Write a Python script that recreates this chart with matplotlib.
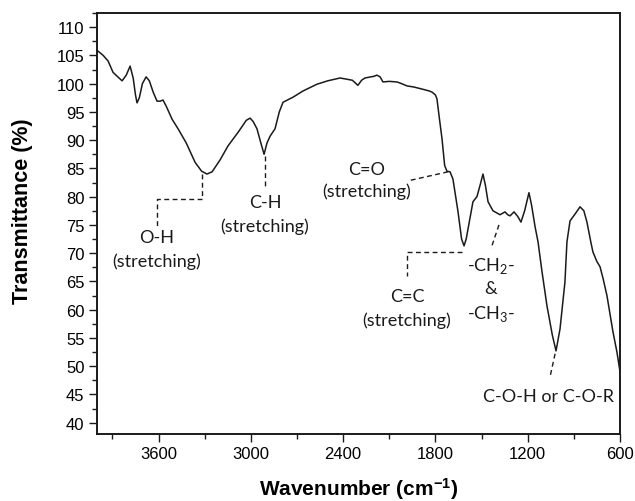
import matplotlib
matplotlib.use('Agg')
import matplotlib.pyplot as plt
from matplotlib.ticker import MultipleLocator

plt.rcParams['font.family'] = ['Liberation Sans', 'DejaVu Sans']
plt.rcParams['mathtext.fontset'] = 'custom'
plt.rcParams['mathtext.rm'] = 'Lato'
plt.rcParams['mathtext.bf'] = 'Liberation Sans:bold'

# Espectro FTIR (número de onda en cm-1, transmitancia en %)
wavenumber = [4000, 3960, 3928, 3896, 3865, 3837, 3810, 3785, 3765, 3750,
              3740, 3725, 3705, 3681, 3660, 3635, 3610, 3590, 3571, 3550,
              3512, 3473, 3420, 3363, 3320, 3285, 3252, 3200, 3148, 3080,
              3030, 3005, 2985, 2960, 2935, 2914, 2895, 2875, 2843, 2815,
              2791, 2726, 2661, 2570, 2500, 2420, 2340, 2304, 2280, 2258,
              2200, 2180, 2160, 2141, 2100, 2050, 2020, 1985, 1940, 1881,
              1840, 1822, 1800, 1790, 1775, 1757, 1740, 1725, 1705, 1686,
              1653, 1630, 1614, 1600, 1588, 1556, 1530, 1510, 1491, 1475,
              1458, 1426, 1380, 1348, 1330, 1315, 1289, 1265, 1244, 1220,
              1192, 1175, 1153, 1133, 1107, 1075, 1040, 1016, 990, 958,
              945, 925, 893, 860, 835, 815, 790, 776, 750, 730,
              710, 685, 646, 620, 600]
transmittance = [105.9, 105.0, 104.0, 102.0, 101.2, 100.5, 101.5, 103.1, 101.0, 98.0,
                 96.6, 97.5, 100.0, 101.2, 100.5, 98.5, 96.9, 96.9, 97.1, 96.0,
                 93.7, 92.0, 89.5, 86.1, 84.5, 84.0, 84.4, 86.5, 89.0, 91.5,
                 93.5, 93.9, 93.3, 92.0, 89.5, 87.5, 89.5, 90.7, 92.0, 95.0,
                 96.7, 97.6, 98.7, 99.9, 100.5, 101.0, 100.6, 99.7, 100.6, 101.0,
                 101.3, 101.5, 101.2, 100.3, 100.4, 100.3, 100.0, 99.6, 99.4, 99.0,
                 98.7, 98.5, 98.0, 97.3, 94.0, 90.2, 85.5, 84.5, 84.4, 83.1,
                 77.3, 72.5, 71.3, 72.5, 74.3, 79.1, 80.0, 82.0, 84.0, 82.0,
                 79.1, 77.5, 76.8, 77.3, 76.8, 76.6, 77.3, 76.5, 75.5, 77.5,
                 80.7, 78.5, 74.8, 72.0, 66.7, 60.7, 55.5, 52.7, 56.6, 64.9,
                 72.0, 75.7, 76.9, 78.2, 77.5, 75.5, 72.0, 70.2, 68.5, 67.6,
                 65.5, 62.5, 56.1, 52.5, 49.0]

# Anotaciones: líneas guía (x, y) y textos (x, y, texto)
guia_oh = ([3318, 3318, 3610, 3610], [84.0, 79.6, 79.6, 74.8])
guia_ch = ([2908, 2908], [87.2, 81.7])
guia_co = ([1718, 1978], [84.4, 82.8])
guia_cc = ([1627, 1985, 1985], [70.2, 70.2, 66.0])
guia_ch2 = ([1387, 1439], [75.0, 70.8])
guia_coh = ([1022, 1055], [52.2, 48.1])

textos = [
    (3610, 72.9, 'O-H'),
    (3610, 68.6, '(stretching)'),
    (2908, 79.0, 'C-H'),
    (2908, 74.9, '(stretching)'),
    (2250, 84.9, 'C=O'),
    (2250, 81.0, '(stretching)'),
    (1985, 62.4, 'C=C'),
    (1985, 58.2, '(stretching)'),
    (1439, 67.9, '-CH$_2$-'),
    (1439, 63.9, '&'),
    (1439, 59.4, '-CH$_3$-'),
    (1068, 44.7, 'C-O-H or C-O-R'),
]

fig = plt.figure(figsize=(6.35, 5.02), dpi=100)
ax = fig.add_axes([0.1528, 0.1335, 0.8236, 0.8386])

ax.plot(wavenumber, transmittance, color='#1a1a1a', linewidth=1.1)

for gx, gy in [guia_oh, guia_ch, guia_co, guia_cc, guia_ch2, guia_coh]:
    ax.plot(gx, gy, color='#1a1a1a', linewidth=1.0, linestyle=(0, (3.5, 2.5)))

for tx, ty, t in textos:
    ax.text(tx, ty, t, ha='center', va='center', fontsize=13,
            family=['Lato', 'DejaVu Sans'], color='#1a1a1a')

ax.set_xlim(4000, 600)
ax.set_ylim(38, 112.5)
ax.xaxis.set_major_locator(MultipleLocator(600))
ax.xaxis.set_minor_locator(MultipleLocator(300))
ax.set_xticks([3600, 3000, 2400, 1800, 1200, 600])
ax.yaxis.set_major_locator(MultipleLocator(5))
ax.yaxis.set_minor_locator(MultipleLocator(2.5))
ax.set_yticks(range(40, 111, 5))

ax.tick_params(which='both', direction='out', top=False, right=False,
               labelsize=12, width=1.0, color='#1a1a1a')
ax.tick_params(which='major', length=5.5)
ax.tick_params(which='minor', length=3.5)
for s in ax.spines.values():
    s.set_linewidth(1.4)
    s.set_color('#1a1a1a')

ax.set_xlabel(r'Wavenumber (cm$\mathbf{^{-1}}$)', fontsize=15, fontweight='bold')
ax.set_ylabel('Transmittance (%)', fontsize=15.5, fontweight='bold')
ax.xaxis.set_label_coords(0.501, -0.098)
ax.yaxis.set_label_coords(-0.122, 0.531)

plt.savefig('out.png', dpi=100)
